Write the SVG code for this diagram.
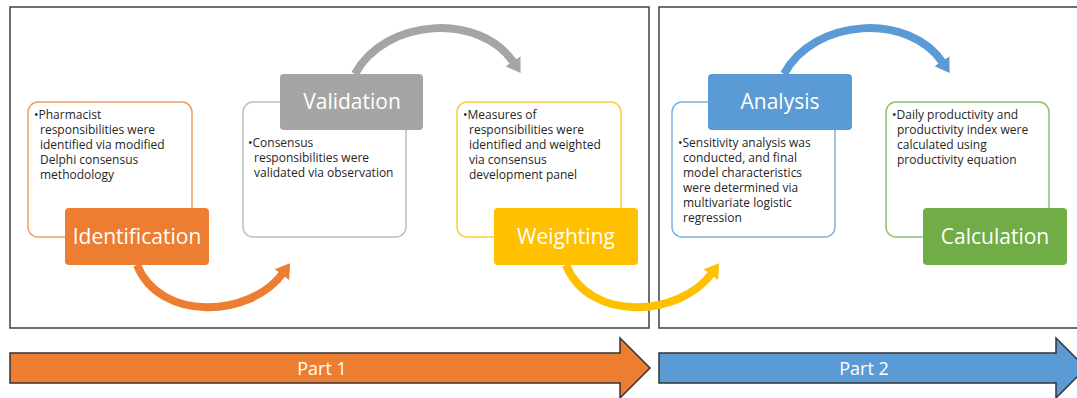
<svg xmlns="http://www.w3.org/2000/svg" width="1077" height="398" viewBox="0 0 1077 398">
<defs>
<style>
.frame{fill:none;stroke:#404040;stroke-width:1.5}
.tbox{fill:#fff;stroke-width:1.5}
.lbl{font-family:"Open Sans","Liberation Sans",sans-serif;font-size:21px;fill:#fff;text-anchor:middle}
.body{font-family:"Open Sans","Liberation Sans",sans-serif;font-size:12px;fill:#262626}
.arc{fill:none;stroke-width:8}
.part{stroke:#333;stroke-width:1.5}
.ptxt{font-family:"Open Sans","Liberation Sans",sans-serif;font-size:18px;fill:#fff;text-anchor:middle}
</style>
<marker id="mO" markerUnits="userSpaceOnUse" markerWidth="20" markerHeight="20" viewBox="0 0 20 20" refX="2" refY="10" orient="auto"><path d="M0,1 L14,10 L0,19 z" fill="#ED7D31"/></marker>
<marker id="mG" markerUnits="userSpaceOnUse" markerWidth="20" markerHeight="20" viewBox="0 0 20 20" refX="2" refY="10" orient="auto"><path d="M0,1 L14,10 L0,19 z" fill="#A5A5A5"/></marker>
<marker id="mY" markerUnits="userSpaceOnUse" markerWidth="20" markerHeight="20" viewBox="0 0 20 20" refX="2" refY="10" orient="auto"><path d="M0,1 L14,10 L0,19 z" fill="#FFC000"/></marker>
<marker id="mB" markerUnits="userSpaceOnUse" markerWidth="20" markerHeight="20" viewBox="0 0 20 20" refX="2" refY="10" orient="auto"><path d="M0,1 L14,10 L0,19 z" fill="#5B9BD5"/></marker>
</defs>
<rect width="1077" height="398" fill="#fff"/>
<g id="frames">
<rect class="frame" x="10" y="7" width="639" height="321"/>
<rect class="frame" x="659" y="7" width="430" height="321"/>
</g>
<g id="connectors">
<path class="arc" stroke="#ED7D31" d="M137 265 C160 322 250 318 283 273" marker-end="url(#mO)"/>
<path class="arc" stroke="#A5A5A5" d="M355 74 C385 18 480 12 514 63" marker-end="url(#mG)"/>
<path class="arc" stroke="#FFC000" d="M566 265 C589 322 679 318 712 273" marker-end="url(#mY)"/>
<path class="arc" stroke="#5B9BD5" d="M784 74 C814 18 909 12 943 63" marker-end="url(#mB)"/>
</g>
<g id="identification">
<rect class="tbox" stroke="#F19C65" x="28" y="102" width="164" height="135" rx="10"/>
<text class="body"><tspan x="34" y="119">•Pharmacist</tspan><tspan x="40" y="134">responsibilities were</tspan><tspan x="40" y="149">identified via modified</tspan><tspan x="40" y="164">Delphi consensus</tspan><tspan x="40" y="179">methodology</tspan></text>
<rect x="65" y="208" width="144" height="57" rx="4" fill="#ED7D31"/>
<text class="lbl" x="137" y="244">Identification</text>
</g>
<g id="validation">
<rect class="tbox" stroke="#BFBFBF" x="243" y="102" width="163" height="135" rx="10"/>
<text class="body"><tspan x="248" y="147">•Consensus</tspan><tspan x="254" y="162">responsibilities were</tspan><tspan x="254" y="177">validated via observation</tspan></text>
<rect x="280" y="74" width="143" height="56" rx="4" fill="#A5A5A5"/>
<text class="lbl" x="352" y="109">Validation</text>
</g>
<g id="weighting">
<rect class="tbox" stroke="#FFCD33" x="457" y="102" width="164" height="135" rx="10"/>
<text class="body"><tspan x="463" y="119">•Measures of</tspan><tspan x="469" y="134">responsibilities were</tspan><tspan x="469" y="149">identified and weighted</tspan><tspan x="469" y="164">via consensus</tspan><tspan x="469" y="179">development panel</tspan></text>
<rect x="494" y="208" width="144" height="57" rx="4" fill="#FFC000"/>
<text class="lbl" x="566" y="244">Weighting</text>
</g>
<g id="analysis">
<rect class="tbox" stroke="#7EB0DF" x="672" y="102" width="163" height="135" rx="10"/>
<text class="body"><tspan x="678" y="147">•Sensitivity analysis was</tspan><tspan x="683" y="162">conducted, and final</tspan><tspan x="683" y="177">model characteristics</tspan><tspan x="683" y="192">were determined via</tspan><tspan x="683" y="207">multivariate logistic</tspan><tspan x="683" y="222">regression</tspan></text>
<rect x="708" y="74" width="144" height="56" rx="4" fill="#5B9BD5"/>
<text class="lbl" x="780" y="109">Analysis</text>
</g>
<g id="calculation">
<rect class="tbox" stroke="#8FC16E" x="886" y="102" width="163" height="135" rx="10"/>
<text class="body"><tspan x="892" y="119">•Daily productivity and</tspan><tspan x="897" y="134">productivity index were</tspan><tspan x="897" y="149">calculated using</tspan><tspan x="897" y="164">productivity equation</tspan></text>
<rect x="923" y="208" width="144" height="57" rx="4" fill="#70AD47"/>
<text class="lbl" x="995" y="244">Calculation</text>
</g>
<g id="part1">
<path class="part" fill="#ED7D31" d="M10 353 L620 353 L620 338 L650 368 L620 398 L620 383 L10 383 z"/>
<text class="ptxt" x="322" y="375">Part 1</text>
</g>
<g id="part2">
<path class="part" fill="#5B9BD5" d="M659 353 L1056 353 L1056 338 L1086 368 L1056 398 L1056 383 L659 383 z"/>
<text class="ptxt" x="864" y="375">Part 2</text>
</g>
</svg>
